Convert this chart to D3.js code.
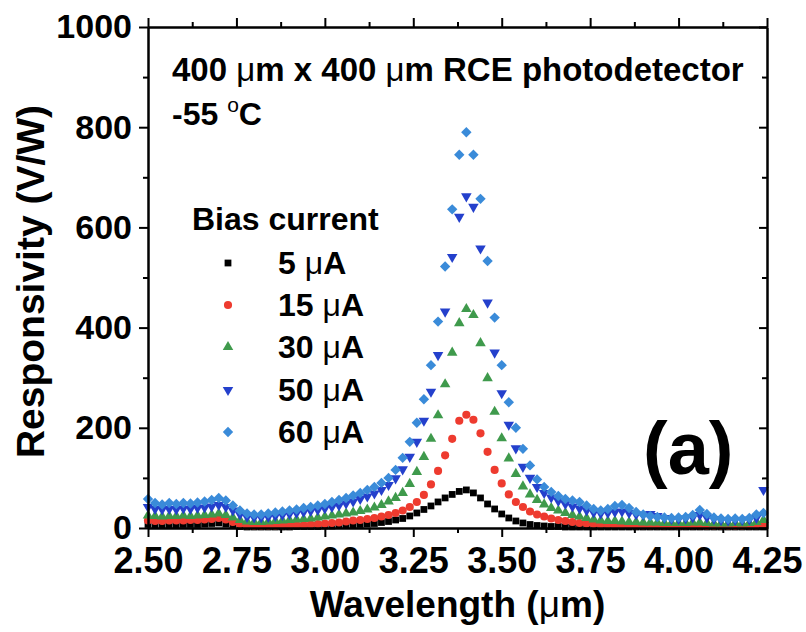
<!DOCTYPE html>
<html>
<head>
<meta charset="utf-8">
<script src="https://cdn.jsdelivr.net/npm/d3@7/dist/d3.min.js"></script>
<style>
  html, body { margin: 0; padding: 0; background: #fff; }
  svg { display: block; }
  text { font-family: "Liberation Sans", Arial, Helvetica, sans-serif; font-weight: bold; fill: #000; }
</style>
</head>
<body>
<svg id="chart" width="806" height="632"></svg>
<script>
// Wavelength sampling (µm)
const wavelength = [
  2.50, 2.52, 2.54, 2.56, 2.58, 2.60, 2.62, 2.64, 2.66, 2.68,
  2.70, 2.72, 2.74, 2.76, 2.78, 2.80, 2.82, 2.84, 2.86, 2.88,
  2.90, 2.92, 2.94, 2.96, 2.98, 3.00, 3.02, 3.04, 3.06, 3.08,
  3.10, 3.12, 3.14, 3.16, 3.18, 3.20, 3.22, 3.24, 3.26, 3.28,
  3.30, 3.32, 3.34, 3.36, 3.38, 3.40, 3.42, 3.44, 3.46, 3.48,
  3.50, 3.52, 3.54, 3.56, 3.58, 3.60, 3.62, 3.64, 3.66, 3.68,
  3.70, 3.72, 3.74, 3.76, 3.78, 3.80, 3.82, 3.84, 3.86, 3.88,
  3.90, 3.92, 3.94, 3.96, 3.98, 4.00, 4.02, 4.04, 4.06, 4.08,
  4.10, 4.12, 4.14, 4.16, 4.18, 4.20, 4.22, 4.24
];

// Responsivity (V/W) for each bias current
const resp5uA = [
  7, 6, 6, 6, 6, 7, 7, 7, 8, 9,
  10, 8, 5, 3, 2, 2, 2, 2, 2, 2,
  2, 3, 3, 3, 3, 4, 4, 5, 5, 6,
  7, 8, 9, 11, 13, 16, 19, 24, 30, 37,
  44, 52, 60, 67, 73, 76, 70, 60, 48, 38,
  28, 20, 14, 10, 7, 5, 4, 3, 3, 2,
  2, 2, 2, 2, 2, 2, 2, 2, 2, 2,
  2, 2, 2, 2, 2, 2, 2, 2, 2, 2,
  2, 2, 2, 2, 2, 2, 2, 2
];
const resp15uA = [
  15, 14, 14, 15, 15, 15, 16, 16, 17, 18,
  20, 17, 12, 8, 5, 4, 4, 4, 4, 5,
  5, 6, 6, 7, 8, 9, 10, 11, 13, 15,
  16, 18, 20, 23, 26, 30, 35, 42, 52, 66,
  87, 114, 145, 178, 214, 226, 216, 189, 152, 116,
  89, 67, 52, 42, 33, 27, 23, 19, 16, 14,
  12, 10, 9, 8, 7, 7, 6, 6, 6, 5,
  5, 5, 5, 5, 5, 4, 5, 5, 5, 4,
  4, 4, 4, 4, 4, 5, 5, 6
];
const resp30uA = [
  25, 24, 23, 24, 24, 25, 24, 25, 26, 27,
  29, 26, 21, 16, 13, 12, 12, 13, 14, 15,
  16, 17, 18, 19, 21, 23, 25, 27, 29, 31,
  34, 37, 41, 46, 53, 60, 70, 88, 112, 142,
  178, 225, 287, 350, 409, 437, 425, 369, 299, 232,
  179, 139, 108, 83, 67, 56, 47, 40, 35, 30,
  26, 23, 20, 17, 15, 14, 14, 13, 12, 12,
  11, 11, 11, 10, 10, 10, 10, 11, 11, 10,
  9, 9, 9, 10, 9, 10, 12, 16
];
const resp50uA = [
  42, 38, 37, 38, 37, 39, 38, 40, 41, 43,
  46, 42, 35, 27, 22, 21, 21, 22, 24, 26,
  28, 30, 32, 34, 36, 39, 42, 45, 49, 53,
  58, 63, 69, 76, 86, 99, 117, 142, 172, 214,
  272, 345, 432, 541, 621, 662, 641, 558, 450, 350,
  269, 206, 159, 122, 100, 82, 70, 61, 54, 48,
  43, 39, 35, 31, 29, 30, 32, 33, 30, 27,
  26, 28, 24, 20, 18, 18, 19, 21, 26, 21,
  18, 16, 15, 16, 16, 17, 20, 76
];
const resp60uA = [
  58, 50, 47, 50, 48, 50, 49, 51, 53, 56,
  60, 55, 45, 35, 29, 27, 27, 29, 31, 33,
  35, 37, 40, 42, 45, 48, 52, 56, 60, 65,
  70, 76, 82, 90, 100, 116, 140, 172, 210, 257,
  325, 412, 522, 636, 745, 790, 745, 657, 533, 420,
  325, 251, 200, 158, 125, 97, 82, 72, 64, 58,
  55, 52, 45, 38, 35, 38, 44, 46, 40, 32,
  27, 24, 22, 21, 20, 21, 22, 26, 36, 28,
  21, 19, 18, 19, 18, 20, 27, 30
];

const seriesLabels = ["5 \u03bcA", "15 \u03bcA", "30 \u03bcA", "50 \u03bcA", "60 \u03bcA"];
const seriesValues = [resp5uA, resp15uA, resp30uA, resp50uA, resp60uA];
const seriesColors = ["#000000", "#ee3b2f", "#3f9a4c", "#2440cc", "#3a8bd9"];

const xTicks = [2.50, 2.75, 3.00, 3.25, 3.50, 3.75, 4.00, 4.25];
const xMinorTicks = [2.625, 2.875, 3.125, 3.375, 3.625, 3.875, 4.125];
const yTicks = [0, 200, 400, 600, 800, 1000];
const yMinorTicks = [100, 300, 500, 700, 900];

const svg = d3.select("#chart");
const plot = { left: 148, right: 767, top: 27, bottom: 528 };

const x = d3.scaleLinear().domain([2.5, 4.25]).range([plot.left, plot.right]);
const y = d3.scaleLinear().domain([0, 1000]).range([plot.bottom, plot.top]);

// Marker shapes: square, circle, up triangle, down triangle, diamond
const symbolFor = [
  { type: d3.symbolSquare, size: 46, rot: 0 },
  { type: d3.symbolCircle, size: 52, rot: 0 },
  { type: d3.symbolTriangle, size: 48, rot: 0 },
  { type: d3.symbolTriangle, size: 48, rot: 180 },
  { type: d3.symbolSquare, size: 54, rot: 45 }
];

// Data points, drawn from the lowest bias current upwards
seriesValues.forEach((vals, k) => {
  const sym = symbolFor[k];
  const path = d3.symbol().type(sym.type).size(sym.size)();
  svg.append("g")
    .selectAll("path")
    .data(wavelength.map((w, i) => [w, vals[i]]))
    .join("path")
    .attr("d", path)
    .attr("fill", seriesColors[k])
    .attr("transform", d => `translate(${x(d[0])},${y(d[1])}) rotate(${sym.rot})`);
});

// Axes and frame
function styleAxis(fontSize) {
  return g => {
    g.selectAll(".domain").attr("stroke", "#000").attr("stroke-width", 2);
    g.selectAll(".tick line").attr("stroke", "#000").attr("stroke-width", 2);
    g.selectAll(".tick text")
      .attr("font-family", "Liberation Sans, Arial, sans-serif")
      .attr("font-weight", "bold")
      .attr("font-size", fontSize)
      .attr("fill", "#000");
  };
}

svg.append("g")
  .attr("transform", `translate(0,${plot.bottom})`)
  .call(d3.axisBottom(x).tickValues(xTicks).tickSize(9).tickSizeOuter(0).tickPadding(10).tickFormat(d3.format(".2f")))
  .call(styleAxis(36));
svg.append("g")
  .attr("transform", `translate(0,${plot.bottom})`)
  .call(d3.axisBottom(x).tickValues(xMinorTicks).tickSize(5).tickSizeOuter(0).tickFormat(""))
  .call(styleAxis(36));

svg.append("g")
  .attr("transform", `translate(0,${plot.top})`)
  .call(d3.axisTop(x).tickValues(xTicks).tickSize(9).tickSizeOuter(0).tickFormat(""))
  .call(styleAxis(36));
svg.append("g")
  .attr("transform", `translate(0,${plot.top})`)
  .call(d3.axisTop(x).tickValues(xMinorTicks).tickSize(5).tickSizeOuter(0).tickFormat(""))
  .call(styleAxis(36));

svg.append("g")
  .attr("transform", `translate(${plot.left},0)`)
  .call(d3.axisLeft(y).tickValues(yTicks).tickSize(9).tickSizeOuter(0).tickPadding(7).tickFormat(d3.format("d")))
  .call(styleAxis(34));
svg.append("g")
  .attr("transform", `translate(${plot.left},0)`)
  .call(d3.axisLeft(y).tickValues(yMinorTicks).tickSize(5).tickSizeOuter(0).tickFormat(""))
  .call(styleAxis(34));

svg.append("g")
  .attr("transform", `translate(${plot.right},0)`)
  .call(d3.axisRight(y).tickValues(yTicks).tickSize(-8).tickSizeOuter(0).tickFormat(""))
  .call(styleAxis(34));
svg.append("g")
  .attr("transform", `translate(${plot.right},0)`)
  .call(d3.axisRight(y).tickValues(yMinorTicks).tickSize(-5).tickSizeOuter(0).tickFormat(""))
  .call(styleAxis(34));

// Axis titles
const xTitle = svg.append("text")
  .attr("x", (plot.left + plot.right) / 2)
  .attr("y", 617)
  .attr("text-anchor", "middle")
  .attr("font-size", 37);
xTitle.append("tspan").text("Wavelength (");
xTitle.append("tspan").attr("font-weight", "normal").text("\u03bc");
xTitle.append("tspan").text("m)");

svg.append("text")
  .attr("transform", `translate(44,${(plot.top + plot.bottom) / 2 + 4}) rotate(-90)`)
  .attr("text-anchor", "middle")
  .attr("font-size", 39)
  .text("Responsivity (V/W)");

// Device annotation
const note1 = svg.append("text").attr("x", 172).attr("y", 81).attr("font-size", 33);
note1.append("tspan").text("400 ");
note1.append("tspan").attr("font-weight", "normal").text("\u03bc");
note1.append("tspan").text("m x 400 ");
note1.append("tspan").attr("font-weight", "normal").text("\u03bc");
note1.append("tspan").text("m RCE photodetector");

const note2 = svg.append("text").attr("x", 172).attr("y", 125).attr("font-size", 32);
note2.append("tspan").text("-55 ");
note2.append("tspan").attr("font-weight", "normal").attr("font-size", 21).attr("dy", -13).text("o");
note2.append("tspan").attr("dy", 13).text("C");

// Legend
svg.append("text").attr("x", 192).attr("y", 230).attr("font-size", 32).text("Bias current");
const legendRowY = [263, 305, 347, 390, 432];
seriesLabels.forEach((lab, k) => {
  const sym = symbolFor[k];
  svg.append("path")
    .attr("d", d3.symbol().type(sym.type).size(sym.size)())
    .attr("fill", seriesColors[k])
    .attr("transform", `translate(228,${legendRowY[k]}) rotate(${sym.rot})`);
  const t = svg.append("text").attr("x", 278).attr("y", legendRowY[k] + 11).attr("font-size", 32);
  const parts = lab.split(" ");
  t.append("tspan").text(parts[0] + " ");
  t.append("tspan").attr("font-weight", "normal").text("\u03bc");
  t.append("tspan").text("A");
});

// Panel label
svg.append("text").attr("x", 643).attr("y", 474).attr("font-size", 74).text("(a)");
</script>
</body>
</html>
